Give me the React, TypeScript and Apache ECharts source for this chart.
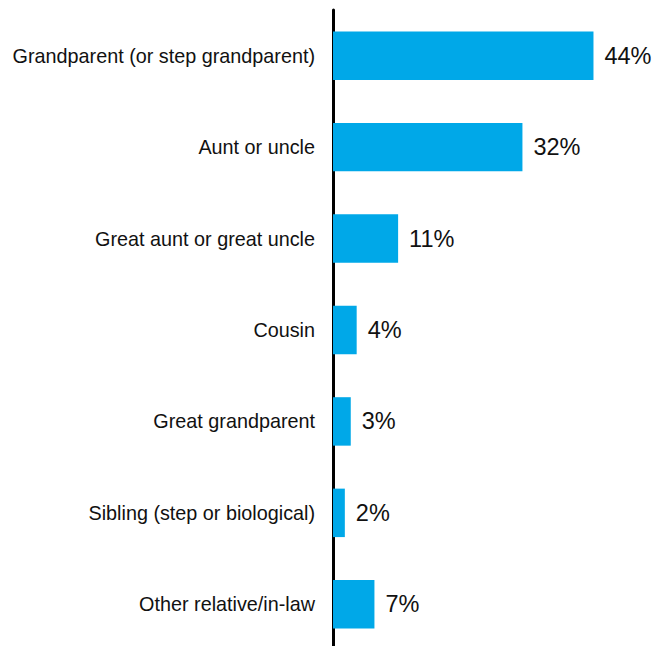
import React, { useEffect, useRef } from "react";
import * as echarts from "echarts";

const categories = [
  "Grandparent (or step grandparent)",
  "Aunt or uncle",
  "Great aunt or great uncle",
  "Cousin",
  "Great grandparent",
  "Sibling (step or biological)",
  "Other relative/in-law",
];
const values = [44, 32, 11, 4, 3, 2, 7];

export default function App() {
  const ref = useRef<HTMLDivElement>(null);
  useEffect(() => {
    if (!ref.current) return;
    const chart = echarts.init(ref.current, null, { renderer: "svg" });
    chart.setOption({
      animation: false,
      backgroundColor: "#ffffff",
      grid: { left: 333, right: 25, top: 10, bottom: 10, containLabel: false },
      xAxis: {
        type: "value",
        min: 0,
        max: 50,
        show: false,
      },
      yAxis: {
        type: "category",
        data: categories,
        inverse: true,
        axisLine: { show: true, lineStyle: { color: "#000", width: 3 } },
        axisTick: { show: false },
        axisLabel: {
          fontSize: 19.8,
          color: "#111",
          fontFamily: "Liberation Sans, Arial, sans-serif",
          margin: 18,
        },
      },
      series: [
        {
          type: "bar",
          data: values,
          barCategoryGap: "47%",
          itemStyle: { color: "#00A8E8" },
          label: {
            show: true,
            position: "right",
            distance: 11,
            formatter: "{c}%",
            fontSize: 23.5,
            color: "#111",
            fontFamily: "Liberation Sans, Arial, sans-serif",
          },
        },
      ],
    });
    return () => chart.dispose();
  }, []);
  return (
    <div
      ref={ref}
      style={{ position: "absolute", left: 0, top: 0, width: 654, height: 660 }}
    />
  );
}
